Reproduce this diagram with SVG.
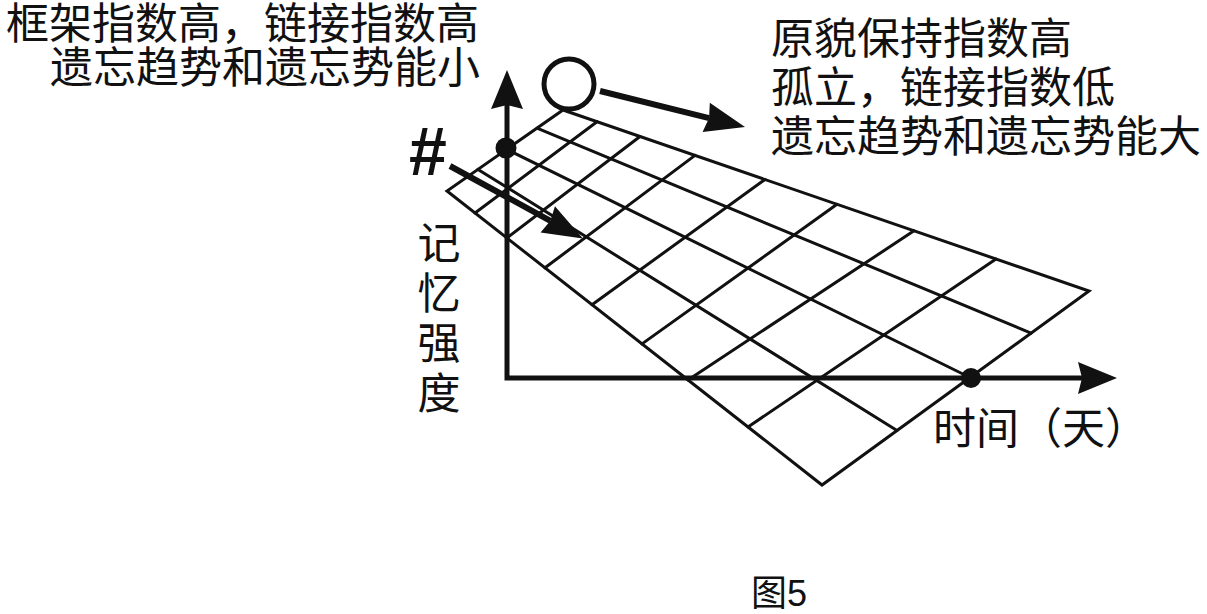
<svg xmlns="http://www.w3.org/2000/svg" width="1207" height="614" viewBox="0 0 1207 614">
  <style>
    .cjk { font-family: "Liberation Sans", "Noto Sans CJK SC", "Noto Sans CJK JP", sans-serif; font-size: 43px; fill: #111; }
    .grid line, .grid polygon { stroke: #111; stroke-width: 3; fill: none; stroke-linecap: round; }
    .axis { stroke: #111; stroke-width: 5; fill: none; stroke-linejoin: miter; }
    .ptr { stroke: #111; stroke-width: 6; fill: none; }
  </style>
  <defs>
    <marker id="axisHead" markerUnits="userSpaceOnUse" viewBox="-2 -20 46 40" markerWidth="46" markerHeight="40" refX="4" refY="0" orient="auto-start-reverse" overflow="visible">
      <path d="M0,-16 L39,0 L0,16 L4,0 Z" fill="#111"/>
    </marker>
    <marker id="ptrHead" markerUnits="userSpaceOnUse" viewBox="-2 -20 46 40" markerWidth="46" markerHeight="40" refX="3" refY="0" orient="auto" overflow="visible">
      <path d="M0,-15 L40,0 L0,15 L3,0 Z" fill="#111"/>
    </marker>
  </defs>
  <rect width="1207" height="614" fill="#fff"/>

  <g id="grid" class="grid">
    <polygon points="563,110 1089,291 822,485 447,191"/>
    <line x1="597" y1="121.7" x2="475" y2="213"/>
    <line x1="640" y1="136.5" x2="507" y2="238"/>
    <line x1="695" y1="155.4" x2="545" y2="267.8"/>
    <line x1="765" y1="179.5" x2="592" y2="304.7"/>
    <line x1="837" y1="204.3" x2="642" y2="343.9"/>
    <line x1="914" y1="230.8" x2="688" y2="380"/>
    <line x1="996" y1="259" x2="748" y2="427"/>
    <line x1="537" y1="128.2" x2="1031" y2="333.1"/>
    <line x1="506" y1="149" x2="970" y2="377.5"/>
    <line x1="478" y1="169.4" x2="897" y2="430.5"/>
  </g>

  <g id="axes">
    <path class="axis" d="M507,105 V378 H1082" marker-start="url(#axisHead)" marker-end="url(#axisHead)"/>
    <circle id="dot-y" cx="506" cy="148" r="10.5" fill="#111"/>
    <circle id="dot-x" cx="971" cy="378" r="10" fill="#111"/>
  </g>

  <g id="circle-node">
    <circle cx="569" cy="84" r="25" fill="none" stroke="#111" stroke-width="5"/>
  </g>

  <g id="hash-node">
    <text x="409" y="175" font-family="Liberation Sans, Arial, sans-serif" font-weight="bold" font-size="68" fill="#111">#</text>
  </g>

  <g id="connectors">
    <line class="ptr" x1="600" y1="91" x2="709.1" y2="118.1" marker-end="url(#ptrHead)"/>
    <line class="ptr" x1="450" y1="166" x2="550.4" y2="220.8" marker-end="url(#ptrHead)"/>
  </g>

  <g id="label-left">
    <text class="cjk" text-anchor="end"><tspan x="479" y="39">框架指数高，链接指数高</tspan><tspan x="480" y="83">遗忘趋势和遗忘势能小</tspan></text>
  </g>

  <g id="label-right">
    <text class="cjk"><tspan x="771" y="54">原貌保持指数高</tspan><tspan x="771" y="103">孤立，链接指数低</tspan><tspan x="771" y="152">遗忘趋势和遗忘势能大</tspan></text>
  </g>

  <g id="label-y">
    <text class="cjk" text-anchor="middle"><tspan x="439" y="259">记</tspan><tspan x="439" y="309">忆</tspan><tspan x="439" y="359">强</tspan><tspan x="439" y="409">度</tspan></text>
  </g>

  <g id="label-x">
    <text class="cjk" x="933" y="444" font-size="42">时间（天）</text>
  </g>

  <g id="caption">
    <text x="751" y="606" font-family="'Liberation Sans', 'Noto Sans CJK SC', sans-serif" font-size="36" fill="#111">图5</text>
  </g>
</svg>
